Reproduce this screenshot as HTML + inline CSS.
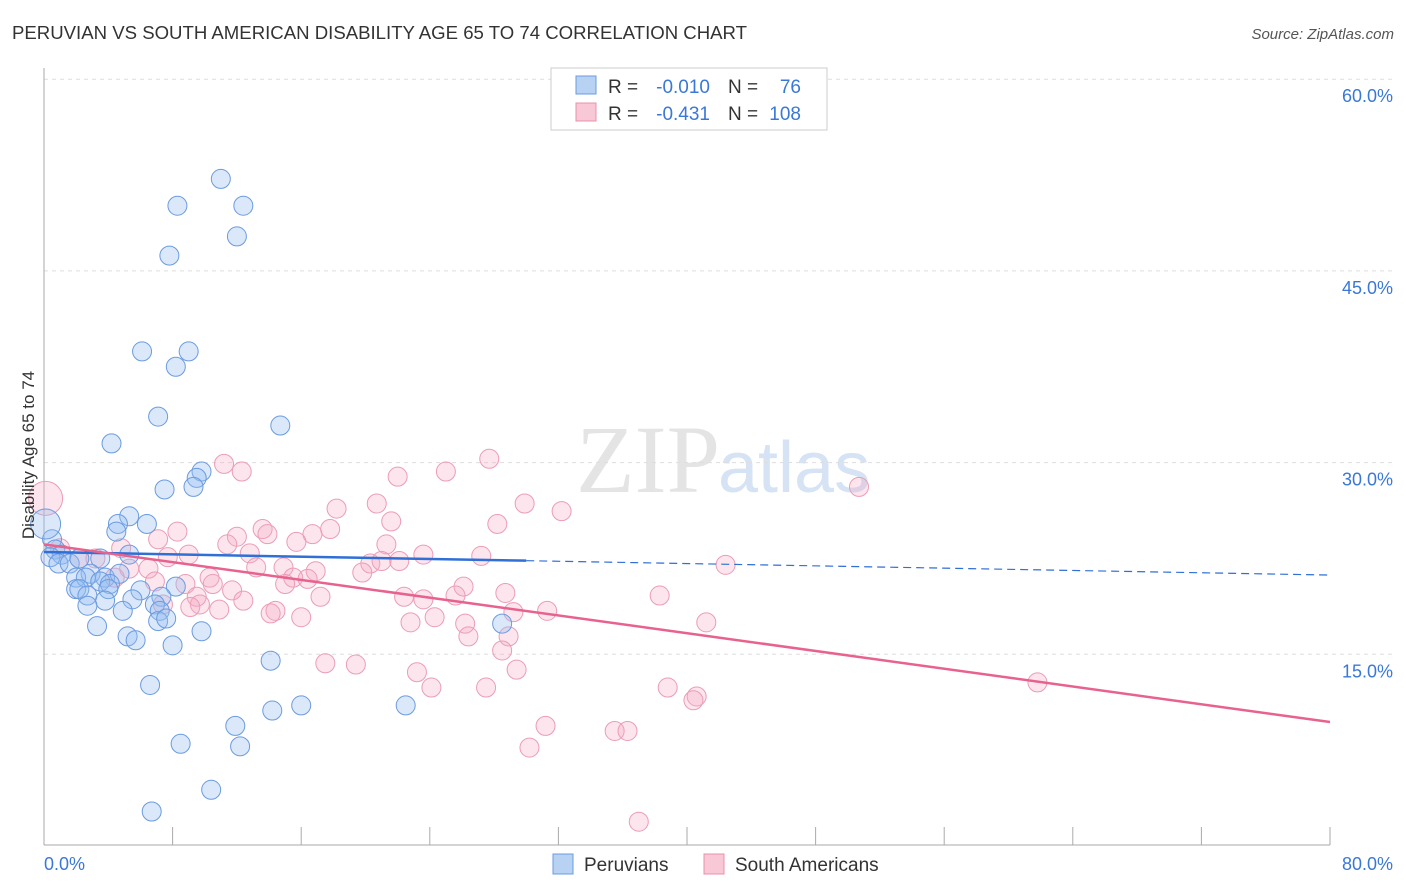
<!DOCTYPE html>
<html><head><meta charset="utf-8"><style>
body{margin:0;background:#fff;font-family:"Liberation Sans",sans-serif;}
svg{display:block}
</style></head><body>
<svg width="1406" height="892">
<text x="12" y="39" font-size="18.6" fill="#333">PERUVIAN VS SOUTH AMERICAN DISABILITY AGE 65 TO 74 CORRELATION CHART</text>
<text x="1394" y="39" font-size="15" fill="#555" font-style="italic" text-anchor="end">Source: ZipAtlas.com</text>
<text x="720" y="492" font-size="96" fill="#e4e4e4" text-anchor="end" font-family="Liberation Serif,serif">ZIP</text>
<text x="718" y="492" font-size="72" fill="#d6e3f4">atlas</text>
<g id="grid"></g><g id="axes"></g><g id="pts"></g><g id="lines"></g>
<text x="34" y="455" font-size="17" fill="#333" transform="rotate(-90 34 455)" text-anchor="middle">Disability Age 65 to 74</text>
<g>
<rect x="551" y="68" width="276" height="62" fill="#fff" stroke="#ccc"/>
<rect x="576" y="76" width="20" height="18" fill="#b8d2f4" stroke="#6a9be0"/>
<rect x="576" y="103" width="20" height="18" fill="#f9c8d6" stroke="#e890aa"/>
<text x="608" y="93" font-size="19" fill="#333">R =</text>
<text x="710" y="93" font-size="19" fill="#3a78d8" text-anchor="end">-0.010</text>
<text x="728" y="93" font-size="19" fill="#333">N =</text>
<text x="801" y="93" font-size="19" fill="#3a78d8" text-anchor="end">76</text>
<text x="608" y="120" font-size="19" fill="#333">R =</text>
<text x="710" y="120" font-size="19" fill="#3a78d8" text-anchor="end">-0.431</text>
<text x="728" y="120" font-size="19" fill="#333">N =</text>
<text x="801" y="120" font-size="19" fill="#3a78d8" text-anchor="end">108</text>
</g>
<g>
<rect x="553" y="854" width="20" height="20" fill="#b8d2f4" stroke="#6a9be0"/>
<text x="584" y="871" font-size="19" fill="#333">Peruvians</text>
<rect x="704" y="854" width="20" height="20" fill="#f9c8d6" stroke="#e890aa"/>
<text x="735" y="871" font-size="19" fill="#333">South Americans</text>
</g>
</svg>
<script>
const yTicks=[15,30,45,60];
const yTickLabels=["15.0%","30.0%","45.0%","60.0%"];
const xTicks=[0,8,16,24,32,40,48,56,64,72,80];
const xEndLabels=["0.0%","80.0%"];
const blueX=[11.0,8.3,12.4,12.0,7.8,6.1,9.0,8.2,7.1,14.7,4.2,9.8,9.5,7.5,9.3,5.3,4.6,6.4,4.5,0.5,0.7,1.1,0.4,0.9,1.6,2.2,3.5,5.3,2.9,2.0,2.6,3.8,4.7,3.5,4.1,2.0,2.2,4.0,8.2,2.7,6.0,3.8,5.5,7.3,2.7,6.9,4.9,7.2,7.1,7.6,3.3,28.5,9.8,5.2,5.7,8.0,14.1,6.6,16.0,14.2,22.5,11.9,8.5,12.2,10.4,6.7,0.1];
const blueY=[52.2,50.1,50.1,47.7,46.2,38.7,38.7,37.5,33.6,32.9,31.5,29.3,28.8,27.9,28.1,25.8,25.2,25.2,24.6,24.0,23.2,22.8,22.6,22.1,22.1,22.5,22.5,22.8,21.3,21.0,21.0,21.0,21.3,20.7,20.5,20.1,20.1,20.1,20.3,19.6,20.0,19.2,19.3,19.5,18.8,18.9,18.4,18.4,17.6,17.8,17.2,17.4,16.8,16.4,16.1,15.7,14.5,12.6,11.0,10.6,11.0,9.4,8.0,7.8,4.4,2.7,25.2];
const pinkX=[0.1,11.2,12.3,27.7,25.0,22.0,50.7,20.7,18.2,29.9,32.2,21.6,28.2,17.8,13.6,8.3,13.9,12.0,16.7,7.1,15.7,11.4,21.3,4.8,1.0,12.8,9.0,23.6,27.2,7.7,2.2,3.2,22.1,20.3,21.0,42.4,13.2,14.9,6.5,16.9,19.8,5.3,10.3,15.5,4.4,16.4,6.9,8.8,10.5,15.0,26.1,11.7,17.2,22.4,25.6,28.7,38.3,9.5,23.6,12.4,9.7,7.4,9.1,14.4,29.2,31.3,14.1,10.9,16.0,24.3,22.8,41.2,26.2,26.4,28.9,28.5,17.5,19.4,29.4,23.2,24.1,27.5,38.8,61.8,40.6,40.4,31.2,35.5,36.3,30.2,37.0];
const pinkY=[27.2,29.9,29.3,30.3,29.3,28.9,28.1,26.8,26.4,26.8,26.2,25.4,25.2,24.8,24.8,24.6,24.4,24.2,24.4,24.0,23.8,23.6,23.6,23.3,23.3,22.9,22.8,22.8,22.7,22.6,22.5,22.5,22.3,22.1,22.3,22.0,21.8,21.8,21.7,21.5,21.4,21.7,21.0,21.0,21.0,20.9,20.7,20.5,20.5,20.5,20.3,20.0,19.5,19.5,19.6,19.8,19.6,19.5,19.3,19.2,18.9,18.9,18.7,18.4,18.3,18.4,18.2,18.5,17.9,17.9,17.5,17.5,17.4,16.4,16.4,15.3,14.3,14.2,13.8,13.6,12.4,12.4,12.4,12.8,11.7,11.4,9.4,9.0,9.0,7.7,1.9];
const blueTrend=[23.0,21.2];
const pinkTrend=[23.6,9.7];
const NS="http://www.w3.org/2000/svg";
const X=v=>44+v/80*1286, Y=v=>846-v*12.78;
function mk(t,a,p){const e=document.createElementNS(NS,t);for(const k in a)e.setAttribute(k,a[k]);p.appendChild(e);return e;}
const grid=document.getElementById('grid'),axes=document.getElementById('axes'),pts=document.getElementById('pts'),lines=document.getElementById('lines');
yTicks.forEach((t,i)=>{
 const l=mk('line',{x1:44,x2:1394,y1:Y(t),y2:Y(t),stroke:'#ddd','stroke-dasharray':'4,4'},grid);
 
 
 const tx=mk('text',{x:1393,y:Y(t)+23,'font-size':18,fill:'#3a78d8','text-anchor':'end'},grid);
 tx.textContent=yTickLabels[i];
 
 
});
mk('line',{x1:44,x2:44,y1:68,y2:845,stroke:'#aaa'},axes);
mk('line',{x1:44,x2:1330,y1:845,y2:845,stroke:'#aaa'},axes);
xTicks.forEach(t=>{
 const l=mk('line',{x1:X(t),x2:X(t),y1:827,y2:845,stroke:'#aaa'},axes);
 
 
});
const xl0=mk('text',{x:44,y:870,'font-size':18,fill:'#3a78d8'},axes);xl0.textContent=xEndLabels[0];


const xl1=mk('text',{x:1393,y:870,'font-size':18,fill:'#3a78d8','text-anchor':'end'},axes);xl1.textContent=xEndLabels[1];


pinkX.forEach((v,i)=>{
 const c=mk('circle',{cx:X(v),cy:Y(pinkY[i]),r:i==0?17:9.5,fill:'rgba(246,170,195,0.3)',stroke:'#eb9db6','stroke-width':1},pts);
 
 
});
blueX.forEach((v,i)=>{
 const c=mk('circle',{cx:X(v),cy:Y(blueY[i]),r:i==blueX.length-1?15:9.5,fill:'rgba(150,190,240,0.35)',stroke:'#6b9be0','stroke-width':1},pts);
 
 
});
const bm=blueTrend[0]+(blueTrend[1]-blueTrend[0])*30/80;
const b1=mk('line',{x1:X(0),y1:Y(blueTrend[0]),x2:X(30),y2:Y(bm),stroke:'#2f6fd6','stroke-width':2.5},lines);


const b2=mk('line',{x1:X(30),y1:Y(bm),x2:X(80),y2:Y(blueTrend[1]),stroke:'#2f6fd6','stroke-width':1.2,'stroke-dasharray':'8,5'},lines);


const p1=mk('line',{x1:X(0),y1:Y(pinkTrend[0]),x2:X(80),y2:Y(pinkTrend[1]),stroke:'#e8628e','stroke-width':2.5},lines);


</script>
</body></html>
